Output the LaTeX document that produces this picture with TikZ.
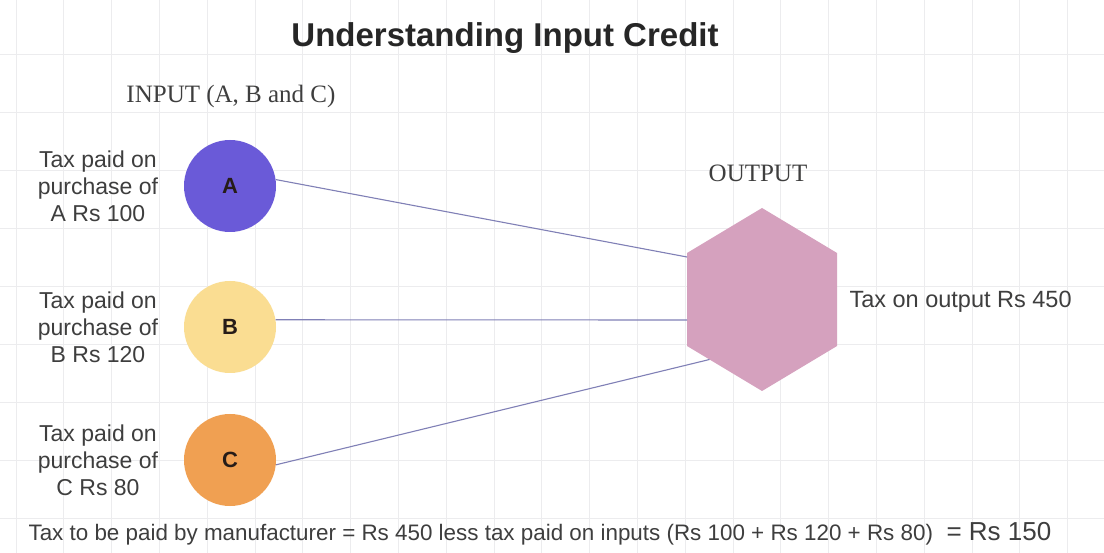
\documentclass[tikz,border=0pt]{standalone}
\usepackage{fontspec}
\setmainfont{Liberation Sans}
\newfontfamily\headserif{Liberation Serif}
\usetikzlibrary{calc}
\definecolor{gridgray}{RGB}{236,236,238}
\definecolor{ballA}{RGB}{106,90,216}
\definecolor{ballB}{RGB}{250,221,146}
\definecolor{ballC}{RGB}{240,160,82}
\definecolor{hexpink}{RGB}{213,161,190}
\definecolor{feedline}{RGB}{128,128,182}
\definecolor{notegray}{RGB}{62,62,62}
\definecolor{inkdark}{RGB}{38,28,24}
\tikzset{
  gridline/.style={draw=gridgray,line width=0.8pt},
  inball/.style={circle,minimum size=92pt,inner sep=0pt,
    font=\fontsize{22}{26}\selectfont\bfseries,text=inkdark},
  taxnote/.style={align=center,text=notegray,
    font=\fontsize{23}{27}\selectfont},
  serifhead/.style={anchor=base,text=notegray,
    font=\headserif\fontsize{25}{29}\selectfont},
  feed/.style={draw=feedline,line width=1.1pt},
}

\begin{document}
\begin{tikzpicture}[x=1pt,y=-1pt]
\useasboundingbox[fill=white] (0,0) rectangle (1104,553);
% background grid
\foreach \gx in {0,...,22}
  \draw[gridline] ({16+47.8*\gx},0) -- ({16+47.8*\gx},553);
\foreach \gy in {0,...,8}
  \draw[gridline] (0,{54+58*\gy}) -- (1104,{54+58*\gy});

\node[anchor=base,text=black!85,font=\fontsize{33}{37}\selectfont\bfseries]
  (title) at (505,47) {Understanding Input Credit};
\node[serifhead] (inhead) at (231,103) {INPUT (A, B and C)};
\node[serifhead] (outhead) at (758,182) {OUTPUT};

% inputs
\node[inball,fill=ballA] (A) at (230,186) {A};
\node[inball,fill=ballB] (B) at (230,327) {B};
\node[inball,fill=ballC] (C) at (230,460) {C};
\node[taxnote] (noteA) at (98,186.5) {Tax paid on\\purchase of\\A Rs 100};
\node[taxnote] (noteB) at (98,327.5) {Tax paid on\\purchase of\\B Rs 120};
\node[taxnote] (noteC) at (98,460.5) {Tax paid on\\purchase of\\C Rs 80};

% output hexagon
\coordinate (top) at (762,208);
\coordinate (ur) at (837,253);
\coordinate (lr) at (837,346);
\coordinate (bot) at (762,391);
\coordinate (ll) at (687,346);
\coordinate (ul) at (687,253);
\fill[hexpink] (top) -- (ur) -- (lr) -- (bot) -- (ll) -- (ul) -- cycle;
\coordinate (inA) at (687,257);
\coordinate (inB) at (687,320);
\coordinate (inC) at ($(ll)!0.3!(bot)$);
\node[anchor=base west,text=notegray,font=\fontsize{23.5}{27}\selectfont]
  (outnote) at (846,308) {Tax on output Rs 450};

\draw[feed] (A.8) -- (inA);
\draw[feed] (B.9) -- (inB);
\draw[feed] (C.-6) -- (inC);

\node[anchor=base west,text=notegray,font=\fontsize{22.4}{26}\selectfont]
  (total) at (25,540)
  {Tax to be paid by manufacturer = Rs 450 less tax paid on inputs (Rs 100 + Rs 120 + Rs 80)};
\node[anchor=base west,text=notegray,font=\fontsize{26}{30}\selectfont]
  (result) at (943,540) {= Rs 150};
\end{tikzpicture}
\end{document}
